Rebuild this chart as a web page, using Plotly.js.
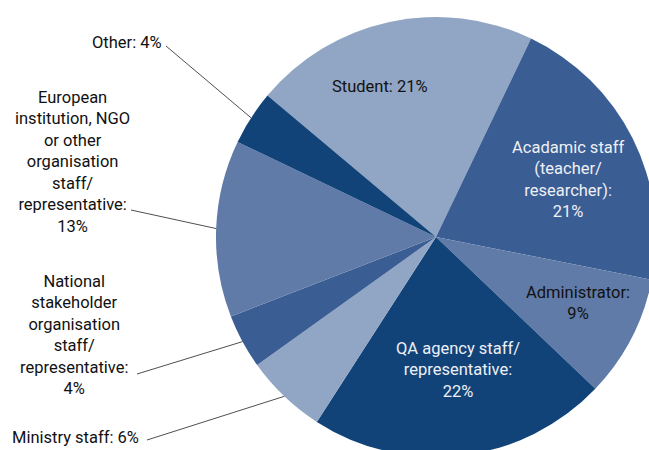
<!DOCTYPE html>
<html>
<head>
<meta charset="utf-8">
<script src="https://cdn.plot.ly/plotly-3.0.1.min.js"></script>
<style>
  html, body { margin: 0; padding: 0; overflow: hidden; background: #fff; }
  #root { width: 700px; height: 480px; }
</style>
</head>
<body>
<div id="root"></div>
<script>
// slices, clockwise from the top-left
const labels = [
    'Student',
    'Acadamic staff (teacher/ researcher)',
    'Administrator',
    'QA agency staff/ representative',
    'Ministry staff',
    'National stakeholder organisation staff/ representative',
    'European institution, NGO or other organisation staff/ representative',
    'Other'
];
const values = [21, 21, 9, 22, 6, 4, 13, 4];
// how each label is wrapped on the chart
const wrapped = [
    'Student: ',
    'Acadamic staff<br>(teacher/<br>researcher):<br>',
    'Administrator:<br>',
    'QA agency staff/<br>representative:<br>',
    'Ministry staff: ',
    'National<br>stakeholder<br>organisation<br>staff/<br>representative:<br>',
    'European<br>institution, NGO<br>or other<br>organisation<br>staff/<br>representative:<br>',
    'Other: '
];
const colors = ['#91a5c5', '#3a5d93', '#607ba8', '#114379', '#91a5c5', '#3a5d93', '#607ba8', '#114379'];
const textColors = ['#111', '#eef0f5', '#111', '#eef0f5', '#111', '#111', '#111', '#111'];

const W = 700, H = 480;       // plot is bigger than the window, the pie gets cut
const CX = 436, CY = 237, R = 220;
const ROTATION = -50;

// label placement in pixels (centre of text block)
const labelPos = [
    [380, 86], [568, 179], [578, 303], [458, 370],
    [75, 437], [74, 335], [72, 162], [127, 42]
];
// where the leader line leaves the text (outside labels only)
const leaderStart = {4: [147, 440], 5: [137, 374], 6: [131, 210], 7: [166, 46]};

function px(x) { return x / W; }
function py(y) { return 1 - y / H; }

const total = values.reduce((a, b) => a + b, 0);

// point on the pie edge at the middle of slice i
function midEdge(i) {
    let before = 0;
    for (let j = 0; j < i; j++) before += values[j];
    const ang = (ROTATION + (before + values[i] / 2) / total * 360) * Math.PI / 180;
    return [CX + R * Math.sin(ang), CY - R * Math.cos(ang)];
}

const annotations = [];
const shapes = [];
for (let i = 0; i < labels.length; i++) {
    annotations.push({
        x: px(labelPos[i][0]), y: py(labelPos[i][1]),
        xref: 'paper', yref: 'paper',
        xanchor: 'center', yanchor: 'middle',
        text: wrapped[i] + values[i] + '%',
        showarrow: false,
        align: 'center',
        font: {family: 'Roboto, sans-serif', size: 16.5, color: textColors[i]}
    });
    if (leaderStart[i]) {
        const e = midEdge(i);
        shapes.push({
            type: 'line', xref: 'paper', yref: 'paper',
            x0: px(leaderStart[i][0]), y0: py(leaderStart[i][1]),
            x1: px(e[0]), y1: py(e[1]),
            line: {color: '#222', width: 0.8}
        });
    }
}

const data = [{
    type: 'pie',
    labels: labels,
    values: values,
    sort: false,
    direction: 'clockwise',
    rotation: ROTATION,
    textinfo: 'none',
    hoverinfo: 'label+percent',
    marker: {colors: colors, line: {width: 0}},
    domain: {x: [px(CX - R), px(CX + R)], y: [py(CY + R), py(CY - R)]}
}];

const layout = {
    width: W,
    height: H,
    margin: {l: 0, r: 0, t: 0, b: 0},
    showlegend: false,
    paper_bgcolor: '#fff',
    annotations: annotations,
    shapes: shapes
};

Plotly.newPlot('root', data, layout, {displayModeBar: false, staticPlot: true});
</script>
</body>
</html>
